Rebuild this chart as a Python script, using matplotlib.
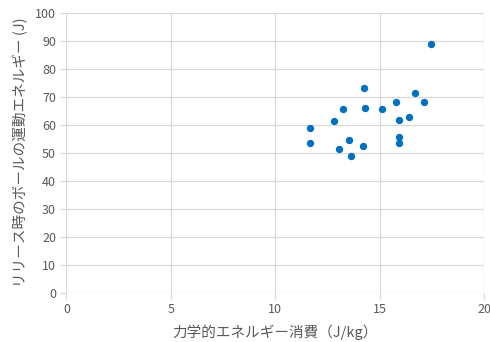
import matplotlib.pyplot as plt

plt.rcParams['font.family'] = ['Noto Sans CJK JP', 'DejaVu Sans']

# 力学的エネルギー消費 (J/kg) と 運動エネルギー (J)
energy_use = [17.45, 14.23, 16.67, 15.8, 17.14, 13.24, 14.3, 15.11, 12.8, 15.92,
              16.39, 11.65, 11.65, 13.52, 13.04, 13.63, 14.19, 15.92, 15.9]
kinetic = [88.8, 73.1, 71.3, 68.1, 68.1, 65.5, 66.0, 65.5, 61.3, 61.6,
           62.6, 58.8, 53.5, 54.4, 51.2, 48.8, 52.5, 55.5, 53.5]

xlabel = '力学的エネルギー消費（J/kg）'
ylabel = 'リリース時のボールの運動エネルギー (J)'

grid_c = '#d9d9d9'
text_c = '#595959'

fig = plt.figure(figsize=(4.9, 3.42), dpi=100)
ax = fig.add_axes([0.1357, 0.1442, 0.8523, 0.8188])

ax.scatter(energy_use, kinetic, s=28, color='#0070C0', zorder=3, linewidths=0)

ax.set_xlim(0, 20)
ax.set_ylim(0, 100)
ax.set_xticks(range(0, 21, 5))
ax.set_yticks(range(0, 101, 10))
ax.grid(True, color=grid_c, linewidth=0.9)
ax.set_axisbelow(True)
for s in ax.spines.values():
    s.set_visible(False)
ax.tick_params(colors=grid_c, labelcolor=text_c, labelsize=9, length=4, width=0.9)

ax.set_xlabel(xlabel, fontsize=10.5, color=text_c, labelpad=6)
ax.set_ylabel(ylabel, fontsize=10.5, color=text_c, labelpad=5)

plt.savefig('out.png', dpi=100)
plt.close()
